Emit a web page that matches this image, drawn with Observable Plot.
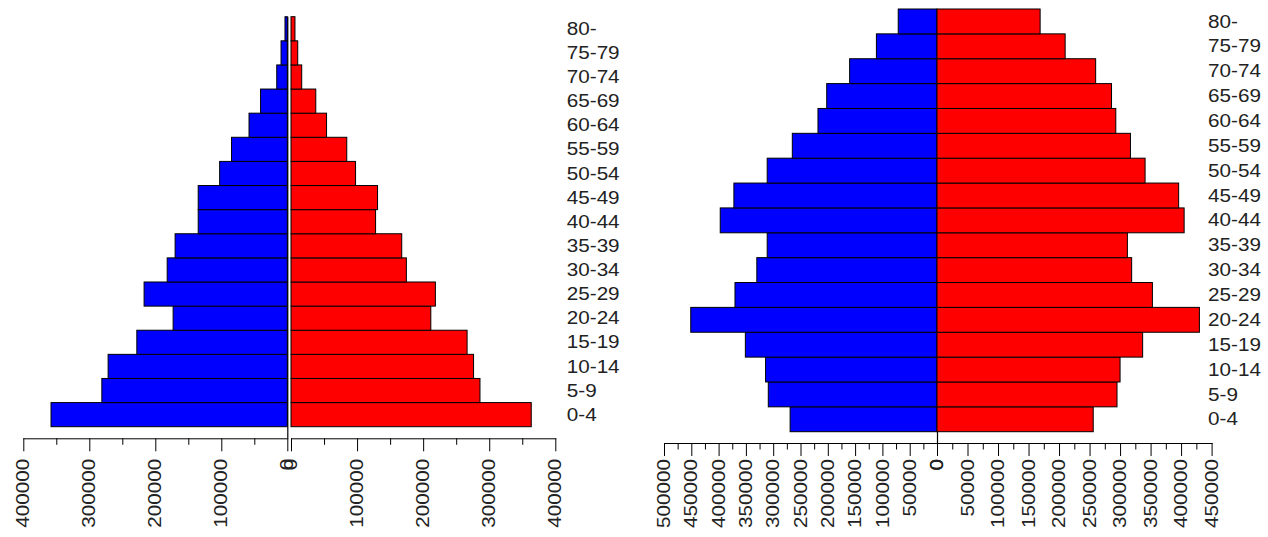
<!DOCTYPE html>
<html>
<head>
<meta charset="utf-8">
<script src="https://cdn.jsdelivr.net/npm/d3@7"></script>
<script src="https://cdn.jsdelivr.net/npm/@observablehq/plot@0.6"></script>
<style>
  html, body { margin: 0; padding: 0; background: #fff; }
  #chart { position: relative; width: 1268px; height: 537px; overflow: hidden; background: #fff; }
  #chart svg { position: absolute; left: 0; top: 0; }
</style>
</head>
<body>
<div id="chart"></div>
<script>
// Age groups, youngest first
const ageGroups = ["0-4","5-9","10-14","15-19","20-24","25-29","30-34","35-39","40-44","45-49","50-54","55-59","60-64","65-69","70-74","75-79","80-"];

// Left pyramid (males blue, females red)
const leftMale   = [358000, 281000, 271500, 228000, 173000, 217000, 182000, 170000, 135000, 135000, 102500, 84500, 58000, 40500, 16000, 9500, 3500];
const leftFemale = [363600, 286000, 276300, 266500, 211600, 218500, 174600, 167600, 128000, 131000, 97700, 84400, 53800, 37500, 16200, 10200, 6000];

// Right pyramid
const rightMale   = [269000, 309000, 314000, 351000, 451000, 370000, 330000, 311000, 397000, 372000, 311000, 265000, 218000, 202000, 160000, 111000, 71000];
const rightFemale = [256000, 295000, 300000, 337000, 430000, 353000, 319000, 312000, 405000, 396000, 341000, 317000, 293000, 286000, 260000, 210000, 169000];

// Tick values
const leftMajorTicks = [0, 100000, 200000, 300000, 400000];
const leftMinorTicks = [50000, 150000, 250000, 350000];
const rightMaleMajorTicks = [0, 50000, 100000, 150000, 200000, 250000, 300000, 350000, 400000, 450000, 500000];
const rightFemaleMajorTicks = [0, 50000, 100000, 150000, 200000, 250000, 300000, 350000, 400000, 450000];
const rightMinorTicks = [25000, 75000, 125000, 175000, 225000, 275000, 325000, 375000, 425000, 475000];

const W = 1268, H = 537;
const FONT = "'Liberation Sans', Arial, Helvetica, sans-serif";
const FS = 17.5;

function panel({values, fill, domain, left, right, top, bottom, inset, major, minor, pad, labels, labelPad, zeroLine}) {
  const data = ageGroups.map((age, i) => ({age, value: values[i]}));
  const marks = [
    Plot.barX(data, {x: "value", y: "age", fill, stroke: "#000", strokeWidth: 1}),
    Plot.frame({anchor: "bottom", stroke: "#000", strokeWidth: 1}),
    Plot.axisX({ticks: major, tickSize: 13, tickPadding: pad, tickRotate: -90,
      tickFormat: d3.format("d"), label: null, stroke: "#000", fill: "#222", fontSize: FS}),
    Plot.axisX({ticks: minor, tickSize: 6.5, tickFormat: () => "", label: null, stroke: "#000"})
  ];
  if (zeroLine) marks.push(Plot.ruleX([0], {stroke: "#000", strokeWidth: 1.2}));
  if (labels) marks.push(Plot.axisY({anchor: "right", tickSize: 0, tickPadding: labelPad,
      label: null, fill: "#222", fontSize: FS}));
  return Plot.plot({
    width: W, height: H,
    marginLeft: left, marginRight: W - right, marginTop: top, marginBottom: H - bottom,
    x: {domain, label: null, axis: null},
    y: {domain: ageGroups.slice().reverse(), padding: 0, insetBottom: inset, round: false, label: null, axis: null},
    style: {background: "transparent", fontFamily: FONT, fontSize: FS + "px", color: "#222", overflow: "visible"},
    marks
  });
}

const chart = document.getElementById("chart");

// Left pyramid
chart.appendChild(panel({values: leftMale, fill: "#0000ff", domain: [400000, 0],
  left: 23.3, right: 287.3, top: 16.7, bottom: 438.3, inset: 11.6,
  major: leftMajorTicks, minor: leftMinorTicks, pad: 7, labels: false, zeroLine: true}));
chart.appendChild(panel({values: leftFemale, fill: "#ff0000", domain: [0, 400000],
  left: 291, right: 555.3, top: 16.7, bottom: 438.3, inset: 11.6,
  major: leftMajorTicks, minor: leftMinorTicks, pad: 7, labels: true, labelPad: 11, zeroLine: false}));

// Right pyramid
chart.appendChild(panel({values: rightMale, fill: "#0000ff", domain: [500000, 0],
  left: 664, right: 937, top: 9, bottom: 443, inset: 11.3,
  major: rightMaleMajorTicks, minor: rightMinorTicks, pad: 2.5, labels: false, zeroLine: true}));
chart.appendChild(panel({values: rightFemale, fill: "#ff0000", domain: [0, 450000],
  left: 937, right: 1211.6, top: 9, bottom: 443, inset: 11.3,
  major: rightFemaleMajorTicks, minor: rightMinorTicks.filter(d => d < 450000), pad: 2.5, labels: true, labelPad: -4, zeroLine: false}));

// The reference lettering is wider than Arial: stretch text along its run
chart.querySelectorAll('g[aria-label$="tick label"] text').forEach(t => {
  const len = t.getComputedTextLength();
  if (len > 0) {
    t.setAttribute("textLength", (len * 1.18).toFixed(1));
    t.setAttribute("lengthAdjust", "spacingAndGlyphs");
  }
});
</script>
</body>
</html>
